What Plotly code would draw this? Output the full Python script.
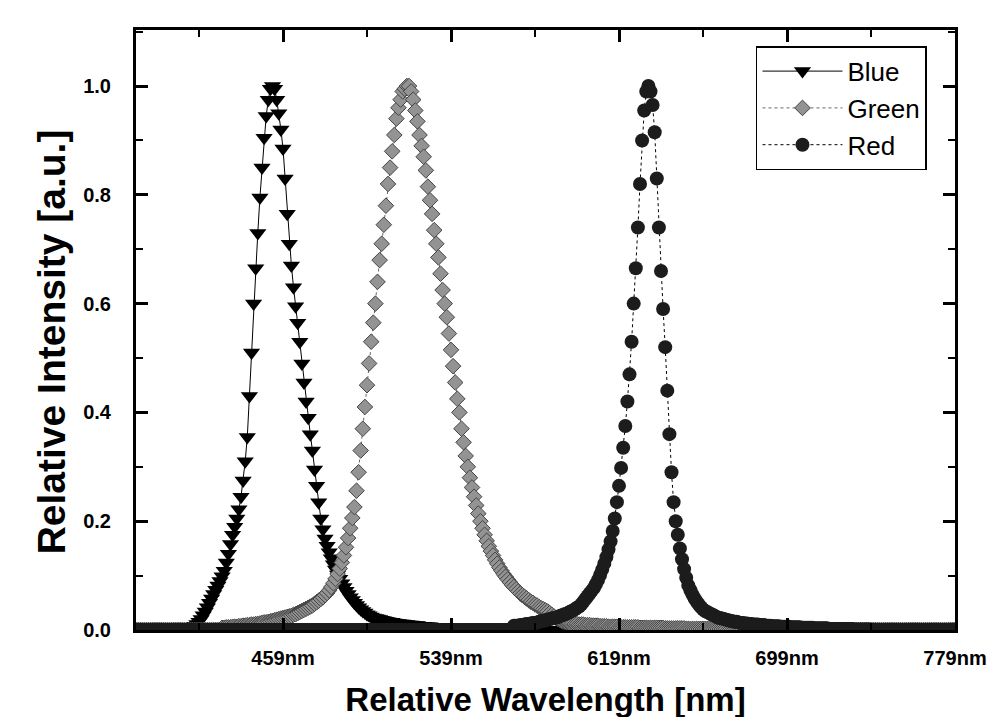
import plotly.graph_objects as go

# Wavelength grid (nm), one sample per nm
WAVELENGTH_NM = list(range(389, 780))

BLUE = [
    0, 0, 0, 0, 0, 0, 0, 0, 0, 0,
    0, 0, 0, 0, 0, 0, 0, 0, 0, 0,
    0, 0, 0, 0, 0, 0, .004, .006, .008, .011,
    .015, .02, .027, .034, .042, .05, .058, .066, .074, .082,
    .09, .099, .109, .124, .14, .158, .175, .19, .205, .222,
    .245, .275, .31, .355, .43, .51, .6, .665, .73, .795,
    .85, .905, .945, .975, .995, 1.0, .995, .975, .95, .92,
    .885, .83, .765, .71, .67, .63, .595, .565, .53, .49,
    .455, .42, .39, .36, .33, .295, .265, .235, .205, .185,
    .168, .155, .143, .132, .121, .111, .102, .094, .086, .079,
    .072, .066, .06, .055, .05, .046, .042, .038, .035, .032,
    .029, .027, .025, .023, .022, .021, .02, .019, .018, .017,
    .016, .015, .015, .014, .013, .013, .012, .012, .011, .011,
    .01, .01, .009, .009, .009, .008, .008, .008, .007, .007,
    .007, .006, .006, .006, .006, .005, .005, .005, .005, .004,
    .004, .004, .004, .004, .003, .003, .003, .003, .003, .003,
    .002, .002, .002, .002, .002, .002, .002, .002, .002, .002,
    0, 0, 0, 0, 0, 0, 0, 0, 0, 0,
    0, 0, 0, 0, 0, 0, 0, 0, 0, 0,
    0, 0, 0, 0, 0, 0, 0, 0, 0, 0,
    0, 0, 0, 0, 0, 0, 0, 0, 0, 0,
    0, 0, 0, 0, 0, 0, 0, 0, 0, 0,
    0, 0, 0, 0, 0, 0, 0, 0, 0, 0,
    0, 0, 0, 0, 0, 0, 0, 0, 0, 0,
    0, 0, 0, 0, 0, 0, 0, 0, 0, 0,
    0, 0, 0, 0, 0, 0, 0, 0, 0, 0,
    0, 0, 0, 0, 0, 0, 0, 0, 0, 0,
    0, 0, 0, 0, 0, 0, 0, 0, 0, 0,
    0, 0, 0, 0, 0, 0, 0, 0, 0, 0,
    0, 0, 0, 0, 0, 0, 0, 0, 0, 0,
    0, 0, 0, 0, 0, 0, 0, 0, 0, 0,
    0, 0, 0, 0, 0, 0, 0, 0, 0, 0,
    0, 0, 0, 0, 0, 0, 0, 0, 0, 0,
    0, 0, 0, 0, 0, 0, 0, 0, 0, 0,
    0, 0, 0, 0, 0, 0, 0, 0, 0, 0,
    0, 0, 0, 0, 0, 0, 0, 0, 0, 0,
    0, 0, 0, 0, 0, 0, 0, 0, 0, 0,
    0, 0, 0, 0, 0, 0, 0, 0, 0, 0,
    0, 0, 0, 0, 0, 0, 0, 0, 0, 0,
    0,
]

GREEN = [
    0, 0, 0, 0, 0, 0, 0, 0, 0, 0,
    0, 0, 0, 0, 0, 0, 0, 0, 0, 0,
    0, 0, 0, 0, 0, 0, 0, 0, 0, 0,
    0, 0, 0, 0, 0, 0, 0, 0, 0, 0,
    0, .004, .004, .005, .005, .005, .006, .006, .006, .007,
    .007, .008, .008, .009, .009, .01, .01, .011, .011, .012,
    .013, .014, .014, .015, .016, .017, .018, .019, .02, .021,
    .022, .023, .024, .025, .026, .028, .029, .031, .033, .035,
    .037, .039, .041, .043, .045, .048, .051, .054, .057, .06,
    .064, .068, .073, .079, .086, .094, .103, .113, .124, .137,
    .152, .169, .187, .206, .226, .256, .29, .33, .37, .41,
    .45, .49, .53, .565, .6, .64, .68, .71, .745, .78,
    .82, .85, .88, .91, .94, .96, .975, .99, .995, 1.0,
    1.0, .99, .975, .955, .935, .91, .89, .87, .845, .815,
    .79, .765, .735, .71, .685, .655, .625, .6, .575, .545,
    .515, .485, .455, .425, .4, .37, .345, .32, .3, .28,
    .262, .245, .229, .214, .2, .187, .175, .164, .154, .145,
    .137, .129, .122, .115, .109, .103, .098, .093, .088, .083,
    .079, .075, .071, .067, .064, .061, .058, .055, .052, .05,
    .047, .045, .042, .04, .038, .036, .034, .031, .028, .025,
    .022, .02, .018, .016, .015, .014, .013, .012, .012, .011,
    .011, .01, .01, .01, .009, .009, .009, .008, .008, .008,
    .008, .007, .007, .007, .007, .006, .006, .006, .006, .006,
    .005, .005, .005, .005, .005, .005, .005, .005, .005, .005,
    .004, .004, .004, .004, .004, .004, .004, .004, .004, .004,
    .004, .004, .003, .003, .003, .003, .003, .003, .003, .003,
    .003, .003, .002, .002, .002, .002, .002, .002, .002, .002,
    .002, .002, .002, .002, .002, .002, .002, .002, .002, .002,
    .002, .002, .001, .001, .001, .001, .001, .001, .001, .001,
    0, 0, 0, 0, 0, 0, 0, 0, 0, 0,
    0, 0, 0, 0, 0, 0, 0, 0, 0, 0,
    0, 0, 0, 0, 0, 0, 0, 0, 0, 0,
    0, 0, 0, 0, 0, 0, 0, 0, 0, 0,
    0, 0, 0, 0, 0, 0, 0, 0, 0, 0,
    0, 0, 0, 0, 0, 0, 0, 0, 0, 0,
    0, 0, 0, 0, 0, 0, 0, 0, 0, 0,
    0, 0, 0, 0, 0, 0, 0, 0, 0, 0,
    0, 0, 0, 0, 0, 0, 0, 0, 0, 0,
    0, 0, 0, 0, 0, 0, 0, 0, 0, 0,
    0,
]

RED = [
    0, 0, 0, 0, 0, 0, 0, 0, 0, 0,
    0, 0, 0, 0, 0, 0, 0, 0, 0, 0,
    0, 0, 0, 0, 0, 0, 0, 0, 0, 0,
    0, 0, 0, 0, 0, 0, 0, 0, 0, 0,
    0, 0, 0, 0, 0, 0, 0, 0, 0, 0,
    0, 0, 0, 0, 0, 0, 0, 0, 0, 0,
    0, 0, 0, 0, 0, 0, 0, 0, 0, 0,
    0, 0, 0, 0, 0, 0, 0, 0, 0, 0,
    0, 0, 0, 0, 0, 0, 0, 0, 0, 0,
    0, 0, 0, 0, 0, 0, 0, 0, 0, 0,
    0, 0, 0, 0, 0, 0, 0, 0, 0, 0,
    0, 0, 0, 0, 0, 0, 0, 0, 0, 0,
    0, 0, 0, 0, 0, 0, 0, 0, 0, 0,
    0, 0, 0, 0, 0, 0, 0, 0, 0, 0,
    0, 0, 0, 0, 0, 0, 0, 0, 0, 0,
    0, 0, 0, 0, 0, 0, 0, 0, 0, 0,
    0, 0, 0, 0, 0, 0, 0, 0, 0, 0,
    0, 0, 0, 0, 0, 0, 0, 0, 0, 0,
    .008, .008, .008, .009, .009, .01, .011, .011, .012, .013,
    .013, .014, .015, .016, .017, .018, .019, .02, .021, .022,
    .023, .024, .026, .027, .029, .03, .032, .034, .036, .038,
    .041, .043, .047, .052, .057, .062, .067, .072, .077, .084,
    .092, .101, .111, .122, .134, .148, .163, .182, .205, .235,
    .265, .298, .335, .375, .42, .47, .53, .6, .665, .74,
    .82, .9, .955, .99, 1.0, .99, .965, .915, .83, .74,
    .66, .59, .52, .44, .36, .29, .235, .2, .175, .15,
    .13, .112, .096, .082, .073, .065, .058, .052, .047, .042,
    .038, .035, .033, .031, .029, .027, .025, .023, .022, .021,
    .02, .019, .018, .017, .016, .015, .015, .014, .013, .013,
    .012, .012, .011, .011, .01, .01, .01, .009, .009, .009,
    .008, .008, .008, .007, .007, .007, .007, .006, .006, .006,
    .006, .006, .005, .005, .005, .005, .005, .004, .004, .004,
    .004, .004, .004, .003, .003, .003, .003, .003, .003, .003,
    .002, .002, .002, .002, .002, .002, .002, .002, .002, .002,
    .002, .002, .001, .001, .001, .001, .001, .001, .001, .001,
    0, 0, 0, 0, 0, 0, 0, 0, 0, 0,
    0, 0, 0, 0, 0, 0, 0, 0, 0, 0,
    0, 0, 0, 0, 0, 0, 0, 0, 0, 0,
    0, 0, 0, 0, 0, 0, 0, 0, 0, 0,
    0,
]

X_TICKS = [459, 539, 619, 699, 779]
X_TICK_LABELS = ["459nm", "539nm", "619nm", "699nm", "779nm"]
X_MINOR = [419, 499, 579, 659, 739]
Y_TICKS = [0.0, 0.2, 0.4, 0.6, 0.8, 1.0]
Y_TICK_LABELS = ["0.0", "0.2", "0.4", "0.6", "0.8", "1.0"]

FONT = "Liberation Sans, Arial, sans-serif"

fig = go.Figure()
fig.add_trace(go.Scatter(
    x=WAVELENGTH_NM, y=BLUE, name="Blue", mode="lines+markers",
    line=dict(color="black", width=1),
    marker=dict(symbol="triangle-down", size=15, color="black",
                line=dict(width=0)),
))
fig.add_trace(go.Scatter(
    x=WAVELENGTH_NM, y=GREEN, name="Green", mode="lines+markers",
    line=dict(color="#666666", width=1, dash="dot"),
    marker=dict(symbol="diamond", size=12, color="#939393",
                line=dict(width=1, color="#454545")),
))
fig.add_trace(go.Scatter(
    x=WAVELENGTH_NM, y=RED, name="Red", mode="lines+markers",
    line=dict(color="black", width=1, dash="dot"),
    marker=dict(symbol="circle", size=14, color="#1c1c1c",
                line=dict(width=0)),
))

axis_common = dict(
    showline=True, linewidth=3, linecolor="black", mirror="ticks",
    ticks="inside", ticklen=12, tickwidth=2.5, tickcolor="black",
    showgrid=False, zeroline=False,
    tickfont=dict(family=FONT, size=20, color="black", weight="bold"),
)

fig.update_xaxes(
    range=[389, 779], tickmode="array", tickvals=X_TICKS, ticktext=X_TICK_LABELS,
    minor=dict(tickmode="array", tickvals=X_MINOR, ticks="inside", ticklen=7,
               tickwidth=2, tickcolor="black"),
    ticklabelstandoff=8,
    title=dict(text="Relative Wavelength [nm]", standoff=20,
               font=dict(family=FONT, size=33, color="black", weight="bold")),
    automargin=False,
    **axis_common,
)
fig.update_yaxes(
    range=[0, 1.103], tickmode="array", tickvals=Y_TICKS, ticktext=Y_TICK_LABELS,
    minor=dict(dtick=0.1, ticks="inside", ticklen=7, tickwidth=2, tickcolor="black"),
    ticklabelstandoff=18,
    automargin=False,
    **axis_common,
)

fig.update_layout(
    width=998, height=717,
    margin=dict(l=128, r=51, t=22, b=95),
    paper_bgcolor="white", plot_bgcolor="white",
    font=dict(family=FONT, color="black"),
    legend=dict(
        x=0.757, y=0.973, xanchor="left", yanchor="top",
        bgcolor="white", bordercolor="black", borderwidth=1.5,
        font=dict(family=FONT, size=26, color="black"),
        itemwidth=80, tracegroupgap=0,
    ),
    annotations=[dict(
        text="Relative Intensity [a.u.]", textangle=-90,
        xref="paper", yref="y", x=-0.103, y=0.53,
        xanchor="center", yanchor="middle", showarrow=False,
        font=dict(family=FONT, size=39, color="black", weight="bold"),
    )],
)

fig.write_html("out.html")
